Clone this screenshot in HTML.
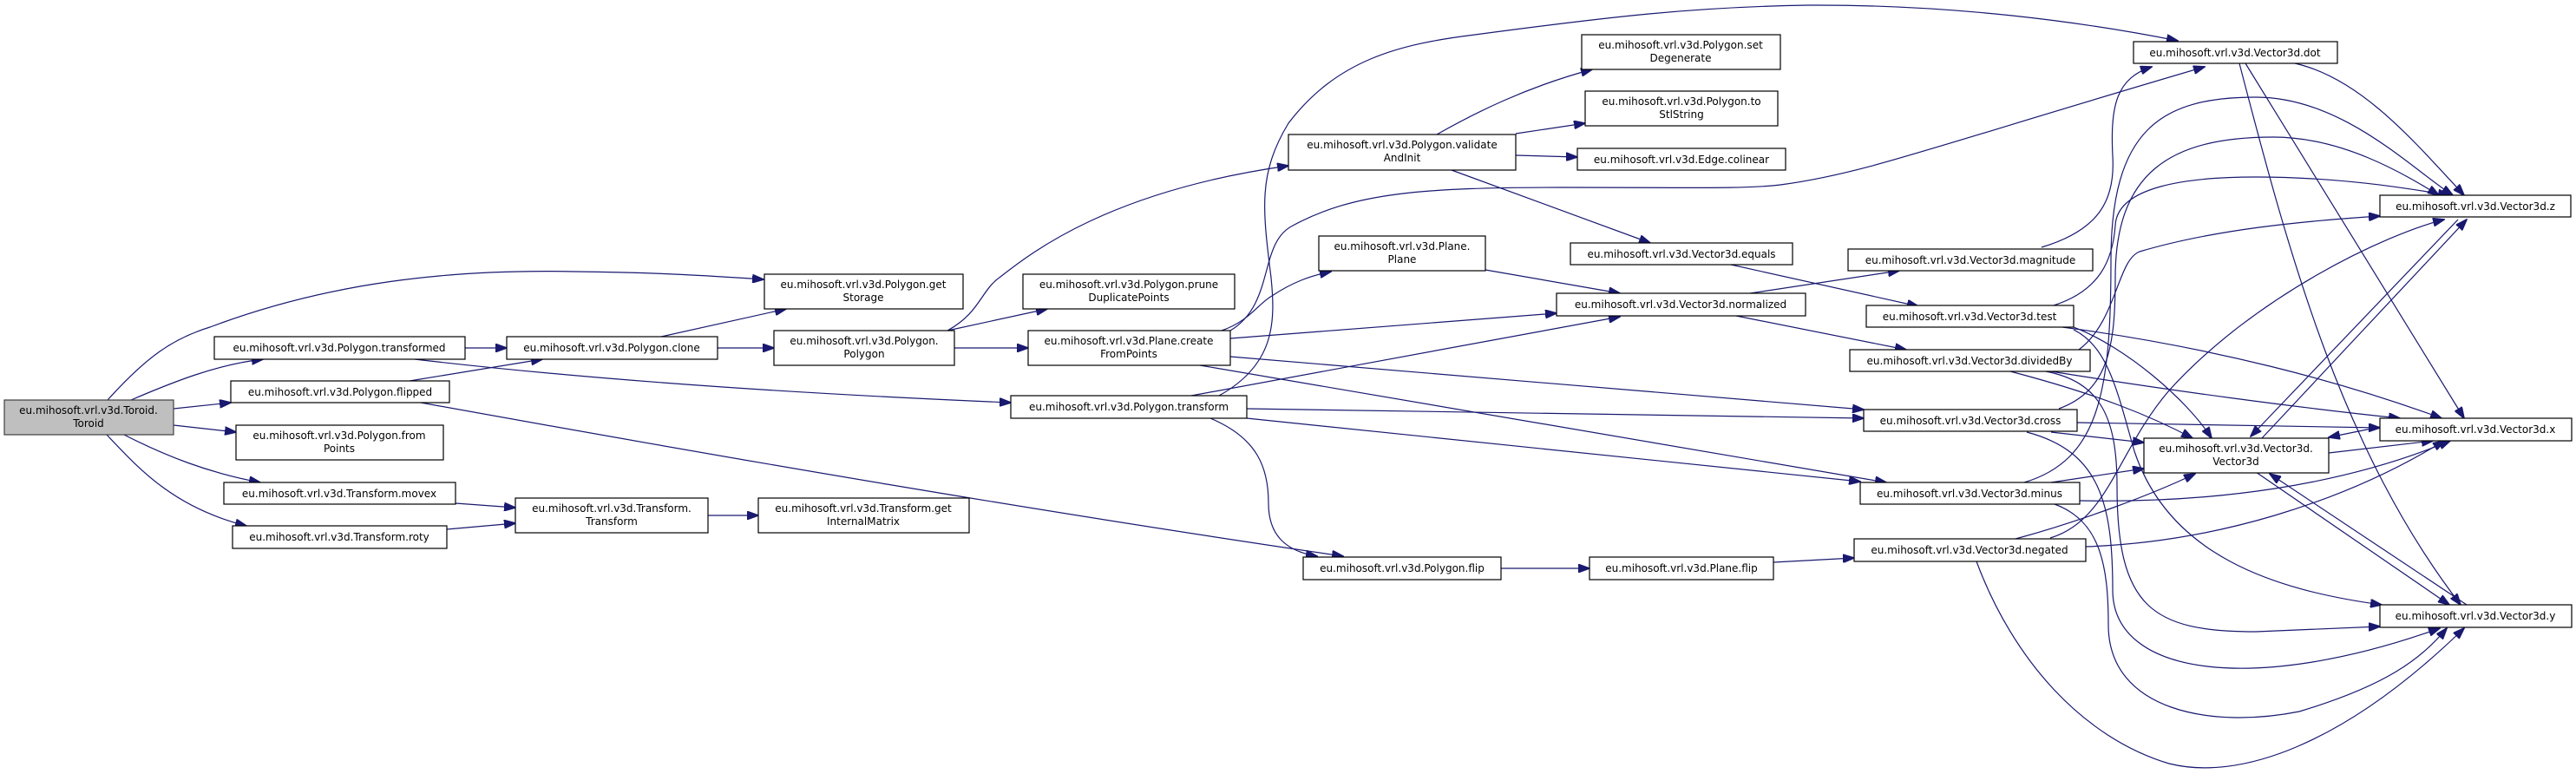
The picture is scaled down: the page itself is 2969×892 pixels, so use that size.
<!DOCTYPE html>
<html><head><meta charset="utf-8"><style>
html,body{margin:0;padding:0;background:#fff;}
svg{display:block;}
text{font-family:"DejaVu Sans","Liberation Sans",sans-serif;font-size:12px;fill:#000;text-anchor:middle;}
.n{fill:#fff;stroke:#000;stroke-width:1.2;}
.e{fill:none;stroke:#191970;stroke-width:1.2;marker-end:url(#a);}
</style></head><body>
<svg width="2969" height="892" viewBox="0 0 2969 892" xmlns="http://www.w3.org/2000/svg">
<defs><marker id="a" markerWidth="14" markerHeight="10" refX="13" refY="5" orient="auto" markerUnits="userSpaceOnUse"><path d="M0,0 L14,5 L0,10 z" fill="#191970" stroke="#191970"/></marker></defs>

<g>
<path class="e" d="M124,461 C170,410 200,390 242,377 C380,325 520,310 663,313 C760,314 820,318 880,322"/>
<path class="e" d="M151,461 C200,440 250,420 303,414"/>
<path class="e" d="M200,471 L266,464"/>
<path class="e" d="M200,490 L272,498"/>
<path class="e" d="M143,501 C190,525 240,545 300,556"/>
<path class="e" d="M123,501 C160,540 200,585 284,606"/>
<path class="e" d="M536,401 L584,401"/>
<path class="e" d="M478,414 C700,440 950,455 1165,464"/>
<path class="e" d="M472,439 L625,414"/>
<path class="e" d="M485,464 C850,530 1200,590 1548,641"/>
<path class="e" d="M525,580 L594,585"/>
<path class="e" d="M515,610 L594,603"/>
<path class="e" d="M816,594 L874,594"/>
<path class="e" d="M762,388 L906,356"/>
<path class="e" d="M827,401 L892,401"/>
<path class="e" d="M1092,381 C1130,360 1130,335 1153,319 C1190,290 1280,220 1485,191"/>
<path class="e" d="M1092,381 L1207,356"/>
<path class="e" d="M1100,401 L1185,401"/>
<path class="e" d="M1408,381 C1440,370 1450,350 1466,341 C1490,325 1510,318 1534,313"/>
<path class="e" d="M1418,381 C1470,350 1450,280 1490,260 C1560,222 1640,216 1800,216 C1950,216 2010,218 2052,213 C2150,200 2224,170 2541,77"/>
<path class="e" d="M1418,390 L1794,361"/>
<path class="e" d="M1418,411 L2148,472"/>
<path class="e" d="M1383,421 L2174,556"/>
<path class="e" d="M1405,456 C1470,420 1470,370 1465,320 C1455,240 1450,200 1485,142 C1540,70 1610,51 1700,40 C1850,20 1950,8 2084,6 C2250,5 2400,25 2510,47"/>
<path class="e" d="M1373,456 L1867,365"/>
<path class="e" d="M1437,471 L2148,482"/>
<path class="e" d="M1437,482 L2144,555"/>
<path class="e" d="M1395,482 C1450,505 1462,540 1462,580 C1462,615 1480,635 1518,641"/>
<path class="e" d="M1656,155 C1700,130 1760,100 1835,80"/>
<path class="e" d="M1747,154 L1827,142"/>
<path class="e" d="M1747,179 L1818,181"/>
<path class="e" d="M1673,196 L1902,280"/>
<path class="e" d="M1712,311 L1867,338"/>
<path class="e" d="M1730,655 L1832,655"/>
<path class="e" d="M2044,648 L2137,643"/>
<path class="e" d="M1995,305 L2211,353"/>
<path class="e" d="M2017,338 L2189,312"/>
<path class="e" d="M2001,364 L2197,403"/>
<path class="e" d="M2353,285 C2420,265 2438,230 2435,180 C2432,120 2440,90 2480,77"/>

<path class="e" d="M2645,73 C2720,90 2780,160 2840,225"/>
<path class="e" d="M2588,73 L2840,482"/>
<path class="e" d="M2581,73 C2640,300 2700,520 2836,697"/>
<path class="e" d="M2367,352 C2420,335 2435,300 2438,260 C2440,215 2520,204 2600,204 C2700,204 2780,218 2823,225"/>
<path class="e" d="M2377,377 C2550,400 2700,440 2814,482"/>
<path class="e" d="M2390,377 C2450,400 2520,460 2549,505"/>
<path class="e" d="M2390,380 C2430,400 2440,450 2460,520 C2500,640 2620,680 2745,697"/>
<path class="e" d="M2396,403 C2440,370 2440,300 2466,290 C2550,265 2650,255 2743,249"/>
<path class="e" d="M2364,428 C2500,450 2650,470 2766,482"/>
<path class="e" d="M2317,428 C2420,455 2480,480 2527,505"/>
<path class="e" d="M2358,428 C2420,440 2440,480 2440,560 C2440,700 2480,728 2600,728 L2743,722"/>
<path class="e" d="M2373,471 C2430,450 2438,400 2438,320 C2438,200 2500,158 2620,158 C2700,158 2770,200 2811,225"/>
<path class="e" d="M2394,487 L2743,493"/>
<path class="e" d="M2364,498 L2471,510"/>
<path class="e" d="M2336,498 C2420,520 2435,580 2435,680 C2435,780 2600,800 2812,724"/>
<path class="e" d="M2333,556 C2420,530 2433,450 2433,300 C2433,150 2490,112 2600,112 C2700,112 2780,195 2827,225"/>
<path class="e" d="M2397,577 C2550,580 2700,560 2824,508"/>
<path class="e" d="M2364,556 L2471,540"/>
<path class="e" d="M2368,581 C2420,600 2430,650 2430,720 C2430,820 2550,840 2650,820 C2750,790 2790,760 2820,724"/>
<path class="e" d="M2323,621 C2400,600 2480,570 2530,546"/>
<path class="e" d="M2363,620 C2430,600 2440,520 2500,450 C2600,340 2750,270 2817,253"/>
<path class="e" d="M2404,630 C2550,625 2700,580 2817,508"/>
<path class="e" d="M2278,647 C2320,760 2400,850 2500,880 C2580,900 2700,860 2840,724"/>
<path class="e" d="M2607,505 L2843,253"/>
<path class="e" d="M2833,253 L2594,503"/>
<path class="e" d="M2684,522 L2804,508"/>
<path class="e" d="M2743,492 L2684,504"/>
<path class="e" d="M2600,544 L2823,697"/>
<path class="e" d="M2843,697 L2616,546"/>
</g>

<g>
<rect x="5" y="461" width="195" height="40" fill="#bfbfbf" stroke="#404040" stroke-width="1.2"/>
<text x="102" y="477">eu.mihosoft.vrl.v3d.Toroid.</text><text x="102" y="492">Toroid</text>

<rect class="n" x="247" y="388" width="289" height="26"/><text x="391" y="405">eu.mihosoft.vrl.v3d.Polygon.transformed</text>
<rect class="n" x="266" y="439" width="252" height="25"/><text x="392" y="456">eu.mihosoft.vrl.v3d.Polygon.flipped</text>
<rect class="n" x="272" y="490" width="239" height="40"/><text x="391" y="506">eu.mihosoft.vrl.v3d.Polygon.from</text><text x="391" y="521">Points</text>
<rect class="n" x="258" y="556" width="267" height="25"/><text x="391" y="573">eu.mihosoft.vrl.v3d.Transform.movex</text>
<rect class="n" x="268" y="606" width="247" height="26"/><text x="391" y="623">eu.mihosoft.vrl.v3d.Transform.roty</text>
<rect class="n" x="584" y="388" width="243" height="26"/><text x="705" y="405">eu.mihosoft.vrl.v3d.Polygon.clone</text>
<rect class="n" x="594" y="574" width="222" height="40"/><text x="705" y="590">eu.mihosoft.vrl.v3d.Transform.</text><text x="705" y="605">Transform</text>
<rect class="n" x="881" y="316" width="229" height="40"/><text x="995" y="332">eu.mihosoft.vrl.v3d.Polygon.get</text><text x="995" y="347">Storage</text>
<rect class="n" x="892" y="381" width="208" height="40"/><text x="996" y="397">eu.mihosoft.vrl.v3d.Polygon.</text><text x="996" y="412">Polygon</text>
<rect class="n" x="874" y="574" width="243" height="40"/><text x="995" y="590">eu.mihosoft.vrl.v3d.Transform.get</text><text x="995" y="605">InternalMatrix</text>
<rect class="n" x="1179" y="316" width="244" height="40"/><text x="1301" y="332">eu.mihosoft.vrl.v3d.Polygon.prune</text><text x="1301" y="347">DuplicatePoints</text>
<rect class="n" x="1185" y="381" width="233" height="40"/><text x="1301" y="397">eu.mihosoft.vrl.v3d.Plane.create</text><text x="1301" y="412">FromPoints</text>
<rect class="n" x="1165" y="456" width="272" height="26"/><text x="1301" y="473">eu.mihosoft.vrl.v3d.Polygon.transform</text>
<rect class="n" x="1485" y="155" width="262" height="41"/><text x="1616" y="171">eu.mihosoft.vrl.v3d.Polygon.validate</text><text x="1616" y="186">AndInit</text>
<rect class="n" x="1520" y="272" width="192" height="40"/><text x="1616" y="288">eu.mihosoft.vrl.v3d.Plane.</text><text x="1616" y="303">Plane</text>
<rect class="n" x="1502" y="642" width="228" height="26"/><text x="1616" y="659">eu.mihosoft.vrl.v3d.Polygon.flip</text>
<rect class="n" x="1823" y="40" width="229" height="40"/><text x="1937" y="56">eu.mihosoft.vrl.v3d.Polygon.set</text><text x="1937" y="71">Degenerate</text>
<rect class="n" x="1827" y="105" width="222" height="40"/><text x="1938" y="121">eu.mihosoft.vrl.v3d.Polygon.to</text><text x="1938" y="136">StlString</text>
<rect class="n" x="1818" y="171" width="240" height="25"/><text x="1938" y="188">eu.mihosoft.vrl.v3d.Edge.colinear</text>
<rect class="n" x="1810" y="280" width="256" height="25"/><text x="1938" y="297">eu.mihosoft.vrl.v3d.Vector3d.equals</text>
<rect class="n" x="1794" y="338" width="287" height="26"/><text x="1937" y="355">eu.mihosoft.vrl.v3d.Vector3d.normalized</text>
<rect class="n" x="1832" y="642" width="212" height="26"/><text x="1938" y="659">eu.mihosoft.vrl.v3d.Plane.flip</text>
<rect class="n" x="2459" y="48" width="235" height="25"/><text x="2576" y="65">eu.mihosoft.vrl.v3d.Vector3d.dot</text>
<rect class="n" x="2130" y="287" width="282" height="25"/><text x="2271" y="304">eu.mihosoft.vrl.v3d.Vector3d.magnitude</text>
<rect class="n" x="2151" y="352" width="239" height="25"/><text x="2270" y="369">eu.mihosoft.vrl.v3d.Vector3d.test</text>
<rect class="n" x="2132" y="403" width="277" height="25"/><text x="2270" y="420">eu.mihosoft.vrl.v3d.Vector3d.dividedBy</text>
<rect class="n" x="2148" y="472" width="246" height="25"/><text x="2271" y="489">eu.mihosoft.vrl.v3d.Vector3d.cross</text>
<rect class="n" x="2144" y="556" width="253" height="25"/><text x="2270" y="573">eu.mihosoft.vrl.v3d.Vector3d.minus</text>
<rect class="n" x="2137" y="621" width="267" height="26"/><text x="2270" y="638">eu.mihosoft.vrl.v3d.Vector3d.negated</text>
<rect class="n" x="2471" y="505" width="213" height="40"/><text x="2577" y="521">eu.mihosoft.vrl.v3d.Vector3d.</text><text x="2577" y="536">Vector3d</text>
<rect class="n" x="2743" y="225" width="220" height="25"/><text x="2853" y="242">eu.mihosoft.vrl.v3d.Vector3d.z</text>
<rect class="n" x="2743" y="482" width="221" height="26"/><text x="2853" y="499">eu.mihosoft.vrl.v3d.Vector3d.x</text>
<rect class="n" x="2743" y="697" width="221" height="26"/><text x="2853" y="714">eu.mihosoft.vrl.v3d.Vector3d.y</text>
</g>
</svg>
</body></html>
